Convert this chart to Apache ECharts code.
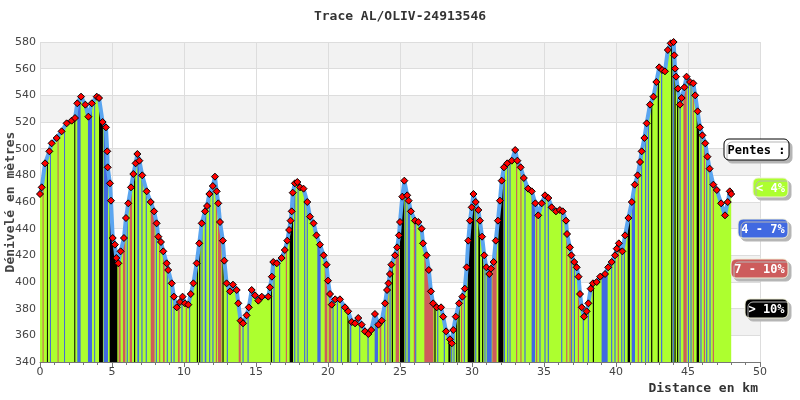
<!DOCTYPE html>
<html>
<head>
<meta charset="utf-8">
<script src="https://cdn.jsdelivr.net/npm/echarts@6/dist/echarts.min.js"></script>
<style>
    html, body { margin: 0; padding: 0; background: #fff; }
    #chart { width: 800px; height: 400px; }
</style>
</head>
<body>
<div id="chart"></div>
<script>
// profil : distance (km) / altitude (m)
var distKm = [0, 0.12, 0.35, 0.65, 0.81, 1.16, 1.5, 1.85, 2.2, 2.43, 2.59, 2.85, 3.15, 3.36, 3.6, 3.94, 4.1, 4.35, 4.58, 4.67,
    4.7, 4.86, 4.93, 5.05, 5.2, 5.3, 5.44, 5.6, 5.83, 5.97, 6.13, 6.32, 6.48, 6.64, 6.76, 6.9, 7.1, 7.41, 7.69, 7.92,
    8.1, 8.22, 8.4, 8.56, 8.8, 8.9, 9.15, 9.3, 9.5, 9.72, 9.9, 10.07, 10.3, 10.47, 10.65, 10.88, 11.06, 11.23, 11.46, 11.6,
    11.76, 12.0, 12.15, 12.27, 12.38, 12.5, 12.7, 12.8, 12.96, 13.2, 13.4, 13.66, 13.77, 13.93, 14.1, 14.35, 14.5, 14.7, 14.93, 15.16,
    15.4, 15.85, 15.97, 16.1, 16.2, 16.44, 16.78, 17.0, 17.17, 17.3, 17.4, 17.48, 17.55, 17.7, 17.87, 18.06, 18.3, 18.56, 18.75, 19.0,
    19.2, 19.44, 19.7, 19.9, 20.0, 20.14, 20.26, 20.5, 20.83, 21.18, 21.4, 21.65, 21.88, 22.1, 22.34, 22.57, 22.8, 23.0, 23.26, 23.5,
    23.73, 23.96, 24.1, 24.2, 24.3, 24.4, 24.65, 24.8, 24.93, 25.0, 25.16, 25.3, 25.5, 25.6, 25.76, 26.04, 26.27, 26.5, 26.6, 26.85,
    27.0, 27.15, 27.3, 27.55, 27.85, 28.0, 28.2, 28.47, 28.6, 28.7, 28.87, 29.1, 29.33, 29.5, 29.63, 29.74, 29.86, 29.98, 30.1, 30.26,
    30.44, 30.55, 30.7, 30.85, 31.0, 31.2, 31.32, 31.5, 31.65, 31.8, 31.94, 32.06, 32.22, 32.45, 32.76, 33.0, 33.15, 33.38, 33.6, 33.9,
    34.15, 34.4, 34.6, 34.84, 35.07, 35.3, 35.53, 35.83, 36.1, 36.3, 36.53, 36.6, 36.8, 36.9, 37.1, 37.27, 37.4, 37.5, 37.62, 37.78,
    37.96, 38.08, 38.24, 38.4, 38.66, 38.9, 39.24, 39.46, 39.7, 39.93, 40.05, 40.2, 40.44, 40.63, 40.86, 41.1, 41.3, 41.5, 41.67, 41.78,
    41.97, 42.13, 42.36, 42.6, 42.8, 43.0, 43.2, 43.4, 43.6, 43.8, 44.0, 44.05, 44.1, 44.17, 44.3, 44.44, 44.56, 44.75, 44.9, 45.14,
    45.37, 45.5, 45.67, 45.83, 46.0, 46.2, 46.35, 46.5, 46.76, 47.0, 47.3, 47.57, 47.76, 47.9, 48.0];
var elevM = [466, 471, 489, 498, 504, 508, 513, 519, 521, 523, 534, 539, 533, 524, 534, 539, 538, 520, 516, 498,
    486, 474, 461, 433, 428, 418, 414, 423, 433, 448, 459, 471, 481, 489, 496, 491, 480, 468, 460, 453,
    444, 434, 430, 423, 414, 409, 399, 389, 381, 385, 389, 384, 383, 391, 399, 414, 429, 444, 453, 457,
    466, 472, 479, 468, 459, 445, 431, 416, 399, 393, 398, 394, 384, 371, 369, 375, 381, 394, 390, 386,
    389, 389, 396, 404, 415, 414, 418, 424, 431, 439, 446, 453, 467, 474, 475, 471, 470, 460, 449, 444,
    435, 428, 420, 413, 401, 391, 383, 387, 387, 381, 378, 370, 369, 373, 368, 363, 361, 364, 376, 368,
    371, 384, 394, 399, 406, 413, 420, 426, 435, 445, 464, 476, 465, 461, 453, 446, 445, 440, 429, 420,
    409, 393, 384, 381, 381, 374, 363, 357, 354, 364, 374, 384, 389, 395, 411, 431, 446, 456, 466, 460,
    454, 446, 434, 420, 411, 406, 410, 415, 431, 446, 461, 476, 486, 489, 491, 499, 491, 486, 478, 470,
    468, 459, 450, 459, 465, 463, 456, 453, 454, 453, 446, 436, 426, 420, 415, 411, 404, 391, 381, 374,
    378, 384, 395, 399, 400, 404, 406, 411, 415, 420, 425, 429, 423, 435, 448, 460, 473, 480, 490, 498,
    508, 519, 533, 539, 550, 561, 559, 558, 574, 579, 580, 570, 560, 554, 545, 533, 538, 546, 554, 550,
    549, 540, 528, 516, 510, 504, 494, 485, 473, 469, 459, 450, 460, 468, 466];

// classes de pente : 0 = < 4%, 1 = 4-7%, 2 = 7-10%, 3 = > 10%
var slopeLabels = ['< 4%', '4 - 7%', '7 - 10%', '> 10%'];
var slopeColors = ['#adff2f', '#4169e1', '#cd5c5c', '#000000'];

// bandes de pente (km debut, km fin, classe) ; le reste est en classe 0
var stripeFrom = [0.18, 0.48, 0.69, 1.22, 1.67, 2.38, 2.59, 3.33, 3.76, 4.1, 4.42, 4.84, 5.46, 5.76, 6.02, 6.23, 6.53, 6.76, 7.04, 7.34,
    7.69, 8.04, 8.27, 8.54, 8.8, 9.08, 9.27, 9.58, 9.82, 10.12, 10.35, 10.89, 11.05, 11.21, 11.44, 11.74, 11.97, 12.21, 12.36, 12.67,
    12.97, 13.8, 14.06, 14.41, 16.03, 16.21, 16.6, 17.07, 17.34, 17.65, 17.88, 18.34, 18.52, 19.26, 19.77, 20.05, 20.31, 20.61, 20.89, 21.35,
    21.5, 22.16, 22.74, 23.24, 23.59, 23.9, 24.11, 24.27, 24.43, 24.7, 25.0, 25.36, 25.53, 25.96, 26.05, 26.69, 27.39, 27.58, 28.04, 28.36,
    28.55, 28.71, 28.9, 29.06, 29.24, 29.43, 29.7, 30.22, 30.44, 30.7, 30.86, 31.02, 31.41, 31.83, 32.21, 32.44, 32.6, 33.06, 33.36, 33.64,
    34.14, 34.45, 34.68, 35.03, 35.26, 36.19, 36.54, 36.77, 36.88, 37.07, 37.35, 37.69, 38.04, 38.39, 39.0, 39.66, 39.89, 40.12, 40.36, 40.54,
    40.81, 41.09, 41.51, 41.74, 42.02, 42.21, 42.44, 42.9, 43.13, 43.83, 43.94, 44.06, 44.24, 44.41, 44.68, 44.99, 45.17, 45.33, 45.6, 45.86,
    46.1, 46.26, 46.49, 46.72];
var stripeTo = [0.25, 0.55, 0.76, 1.29, 1.74, 2.45, 2.82, 3.61, 3.83, 4.37, 4.72, 5.37, 5.6, 5.93, 6.1, 6.39, 6.61, 6.88, 7.12, 7.42,
    7.96, 8.12, 8.35, 8.66, 8.88, 9.16, 9.35, 9.7, 9.9, 10.2, 10.43, 10.97, 11.13, 11.29, 11.55, 11.82, 12.05, 12.29, 12.6, 12.75,
    13.05, 13.94, 14.14, 14.49, 16.11, 16.29, 16.68, 17.15, 17.57, 17.73, 17.96, 18.42, 18.6, 19.49, 19.95, 20.23, 20.39, 20.69, 20.97, 21.43,
    21.62, 22.24, 22.82, 23.47, 23.7, 23.98, 24.19, 24.35, 24.51, 24.93, 25.3, 25.44, 25.7, 26.04, 26.13, 27.32, 27.47, 27.66, 28.12, 28.5,
    28.63, 28.79, 28.98, 29.14, 29.32, 29.51, 30.16, 30.3, 30.56, 30.78, 30.94, 31.37, 31.71, 32.18, 32.29, 32.52, 32.68, 33.14, 33.44, 33.72,
    34.38, 34.53, 34.76, 35.11, 35.34, 36.27, 36.62, 36.85, 36.96, 37.15, 37.43, 37.77, 38.12, 38.47, 39.42, 39.74, 39.97, 40.2, 40.44, 40.62,
    40.97, 41.32, 41.59, 41.82, 42.1, 42.29, 42.52, 42.98, 43.21, 43.91, 44.02, 44.14, 44.32, 44.49, 44.91, 45.07, 45.25, 45.41, 45.77, 45.94,
    46.18, 46.34, 46.57, 46.8];
var stripeClass = [2, 3, 1, 2, 1, 3, 1, 1, 1, 3, 1, 3, 2, 2, 1, 2, 3, 1, 1, 1,
    2, 1, 2, 2, 1, 1, 1, 2, 1, 2, 1, 3, 3, 1, 1, 1, 1, 2, 2, 3,
    1, 2, 1, 1, 3, 1, 1, 2, 3, 1, 1, 1, 1, 1, 2, 2, 1, 1, 1, 3,
    1, 1, 1, 1, 2, 1, 2, 1, 3, 2, 3, 1, 1, 2, 1, 2, 3, 1, 1, 3,
    1, 1, 3, 3, 2, 1, 3, 1, 3, 3, 1, 1, 2, 3, 1, 1, 1, 2, 2, 1,
    1, 2, 1, 1, 1, 1, 2, 2, 1, 1, 2, 1, 1, 3, 1, 1, 1, 2, 1, 1,
    3, 1, 2, 1, 1, 1, 3, 3, 1, 3, 1, 3, 3, 1, 2, 1, 1, 2, 3, 1,
    2, 1, 1, 2];

var yTicks = [340, 360, 380, 400, 420, 440, 460, 480, 500, 520, 540, 560, 580];
var xTicks = [0, 5, 10, 15, 20, 25, 30, 35, 40, 45, 50];

var monoFont = '"DejaVu Sans Mono", monospace';

function elevAt(k) {
    for (var i = 1; i < distKm.length; i++) {
        if (distKm[i] >= k) {
            var t = (k - distKm[i - 1]) / (distKm[i] - distKm[i - 1]);
            return elevM[i - 1] + t * (elevM[i] - elevM[i - 1]);
        }
    }
    return elevM[elevM.length - 1];
}

var profile = distKm.map(function(d, i) { return [d, elevM[i]]; });
var stripes = stripeFrom.map(function(a, i) { return [a, stripeTo[i], stripeClass[i]]; });

function renderStripe(params, api) {
    var a = api.value(0), b = api.value(1), c = api.value(2);
    var base = yTicks[0];
    var pts = [api.coord([a, base]), api.coord([a, elevAt(a)])];
    for (var i = 0; i < distKm.length; i++) {
        if (distKm[i] > a && distKm[i] < b) pts.push(api.coord([distKm[i], elevM[i]]));
    }
    pts.push(api.coord([b, elevAt(b)]));
    pts.push(api.coord([b, base]));
    return {
        type: 'polygon',
        shape: { points: pts },
        style: { fill: slopeColors[c], stroke: null }
    };
}

// legende "Pentes"
var legendBoxes = [
    { x: 724, y: 139, w: 65, h: 21 },
    { x: 753, y: 178, w: 35, h: 19 },
    { x: 738, y: 219, w: 50, h: 19 },
    { x: 731, y: 259, w: 57, h: 19 },
    { x: 745, y: 299, w: 43, h: 19 }
];
var legendTexts = ['Pentes :'].concat(slopeLabels);
var legendFills = ['#ffffff'].concat(slopeColors);
var graphics = legendBoxes.map(function(b, i) {
    return {
        type: 'group',
        x: b.x,
        y: b.y,
        z: 100,
        children: [{
            type: 'rect',
            z: 100,
            shape: { x: 0, y: 0, width: b.w, height: b.h, r: 5 },
            style: {
                fill: legendFills[i],
                stroke: i === 0 ? '#000' : '#f0f0d8',
                lineWidth: 1,
                shadowColor: '#b5b5b5',
                shadowOffsetX: 3,
                shadowOffsetY: 3
            }
        }, {
            type: 'text',
            z: 101,
            x: b.w / 2,
            y: b.h / 2 + 1,
            style: {
                text: legendTexts[i],
                fill: i === 0 ? '#000' : '#fff',
                font: 'bold 12px ' + monoFont,
                align: 'center',
                verticalAlign: 'middle'
            }
        }]
    };
});

var chart = echarts.init(document.getElementById('chart'));
chart.setOption({
    animation: false,
    backgroundColor: '#fff',
    title: {
        text: 'Trace AL/OLIV-24913546',
        left: 'center',
        top: 5,
        textStyle: { fontFamily: monoFont, fontSize: 13, fontWeight: 'bold', color: '#333' }
    },
    grid: { left: 40, right: 40, top: 42, bottom: 38, outerBoundsMode: 'none', containLabel: false },
    xAxis: {
        type: 'value',
        min: xTicks[0],
        max: xTicks[xTicks.length - 1],
        interval: 5,
        name: 'Distance en km',
        nameLocation: 'end',
        nameGap: -2,
        nameMoveOverlap: false,
        nameTextStyle: {
            fontFamily: monoFont, fontSize: 13, fontWeight: 'bold', color: '#333',
            align: 'right', verticalAlign: 'top', padding: [20, 0, 0, 0]
        },
        axisLine: { show: true, lineStyle: { color: '#777', width: 1 } },
        axisTick: { show: true, length: 5, lineStyle: { color: '#777' } },
        minorTick: { show: true, splitNumber: 5, length: 3, lineStyle: { color: '#777' } },
        axisLabel: { color: '#444', fontSize: 11, margin: 5, fontFamily: 'DejaVu Sans' },
        splitLine: { show: true, lineStyle: { color: '#dddddd', width: 1 } }
    },
    yAxis: {
        type: 'value',
        min: yTicks[0],
        max: yTicks[yTicks.length - 1],
        interval: 20,
        name: 'Dénivelé en mètres',
        nameLocation: 'middle',
        nameGap: 23,
        nameMoveOverlap: false,
        nameTextStyle: { fontFamily: monoFont, fontSize: 13, fontWeight: 'bold', color: '#444' },
        axisLine: { show: false },
        axisTick: { show: false },
        axisLabel: { color: '#444', fontSize: 11, margin: 4, fontFamily: 'DejaVu Sans' },
        splitLine: { show: true, lineStyle: { color: '#dddddd', width: 1 } },
        splitArea: { show: true, areaStyle: { color: ['#ffffff', '#f2f2f2'] } }
    },
    graphic: graphics,
    series: [{
        name: 'fond',
        type: 'line',
        data: profile,
        showSymbol: false,
        lineStyle: { width: 0 },
        areaStyle: { color: slopeColors[0], opacity: 1 },
        z: 2,
        silent: true
    }, {
        name: 'pentes',
        type: 'custom',
        data: stripes,
        renderItem: renderStripe,
        encode: { x: [0, 1], y: 2 },
        z: 3,
        silent: true
    }, {
        name: 'profil',
        type: 'line',
        data: profile,
        symbol: 'diamond',
        symbolSize: 7,
        showAllSymbol: true,
        lineStyle: { color: '#5aa5f0', width: 4 },
        itemStyle: { color: '#ff0000', borderColor: '#000', borderWidth: 1 },
        z: 4
    }]
});
</script>
</body>
</html>
